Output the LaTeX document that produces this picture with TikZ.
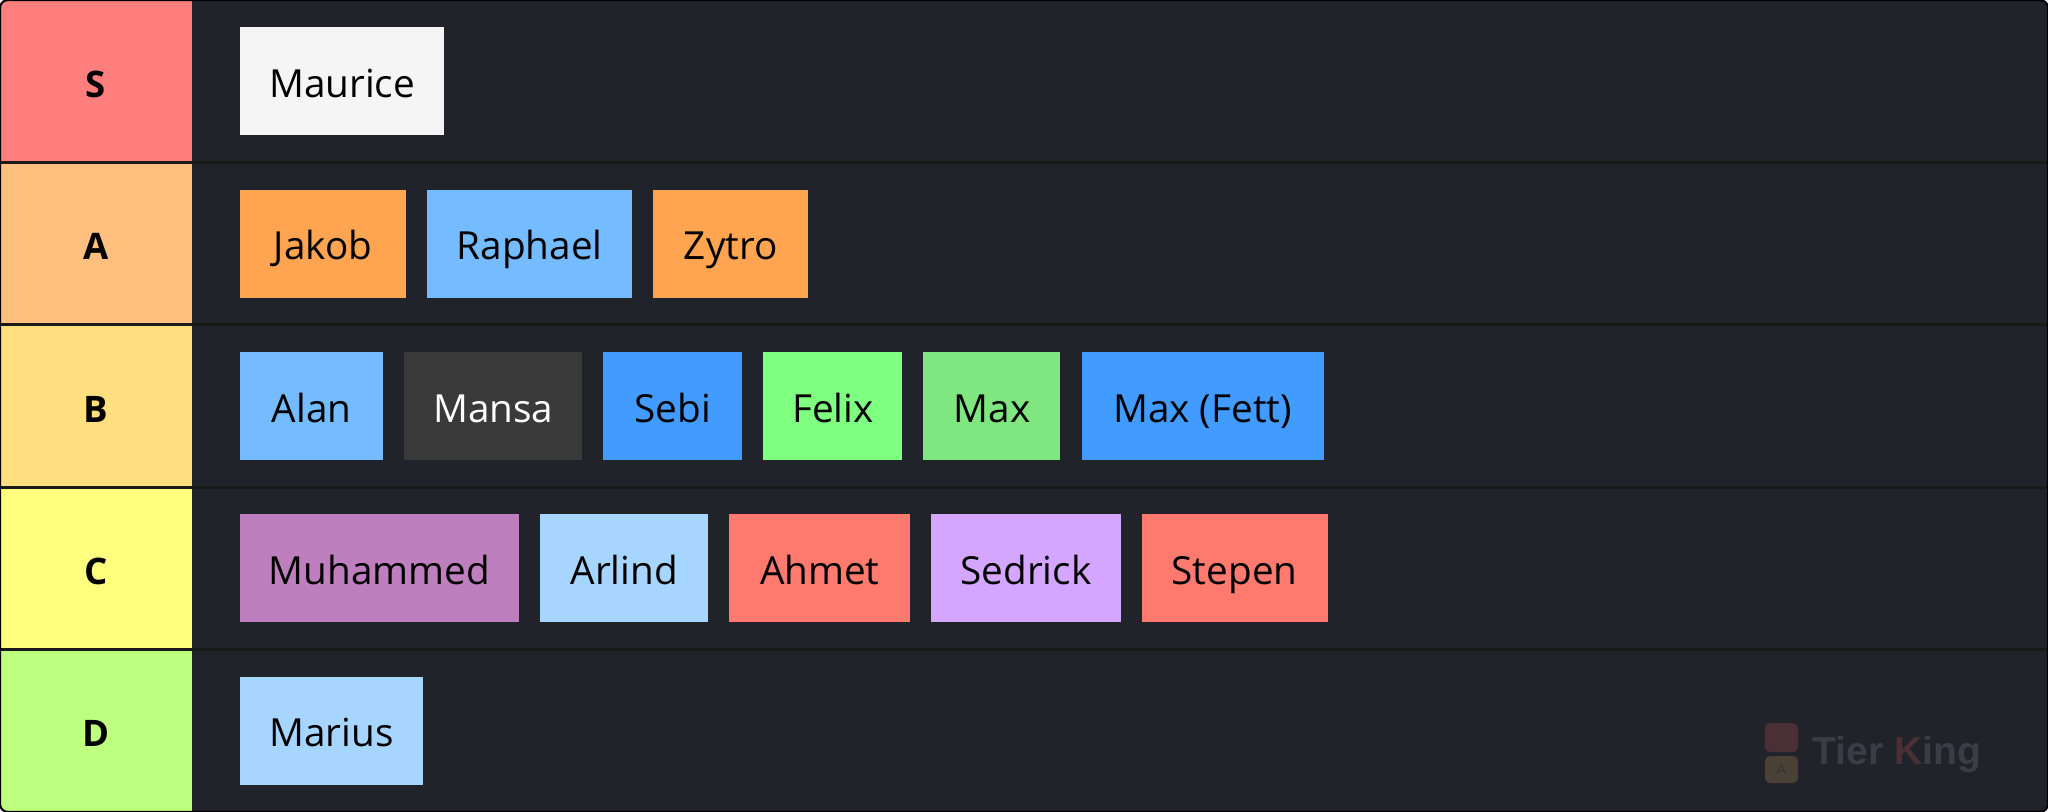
\documentclass[tikz,border=0pt]{standalone}
\usepackage{fontspec}
\setmainfont{Open Sans}
\newfontfamily\wmfont{Liberation Sans}
\usetikzlibrary{positioning}

% Farben der Stufen
\definecolor{tierS}{HTML}{FF7F7F}
\definecolor{tierA}{HTML}{FFBF7F}
\definecolor{tierB}{HTML}{FFDF7F}
\definecolor{tierC}{HTML}{FFFF7F}
\definecolor{tierD}{HTML}{BFFF7F}
\definecolor{bgdark}{HTML}{21232B}
% Farben der Karten
\definecolor{cWhite}{HTML}{F5F5F5}
\definecolor{cOrange}{HTML}{FFA552}
\definecolor{cSky}{HTML}{74BBFF}
\definecolor{cGrey}{HTML}{3A3A3A}
\definecolor{cBlue}{HTML}{429BFF}
\definecolor{cGreen}{HTML}{7FFF7F}
\definecolor{cMint}{HTML}{80E680}
\definecolor{cPurple}{HTML}{BF7FBF}
\definecolor{cPale}{HTML}{A6D5FF}
\definecolor{cRed}{HTML}{FF7A6E}
\definecolor{cLilac}{HTML}{D5A6FF}
\definecolor{wmGrey}{HTML}{3B3D46}
\definecolor{wmRed}{HTML}{4A2F37}
\definecolor{wmBrown}{HTML}{4A4136}

\tikzset{
  card/.style={fill=#1, minimum height=1.08cm, inner sep=0pt, outer sep=0pt, anchor=west,
    text height=12pt, text depth=2.9pt, font=\fontsize{11}{13}\selectfont, text=black},
  tierlabel/.style={fill=#1, minimum width=1.92cm, minimum height=1.624cm,
    inner sep=0pt, outer sep=0pt, text height=12pt, text depth=2.9pt,
    font=\fontsize{10.4}{12}\selectfont\bfseries, text=black},
  rowsep/.style={line width=0.8pt, draw=black!90},
}

\begin{document}
\begin{tikzpicture}[x=0.01cm, y=-0.01cm]
    \useasboundingbox (0,0) rectangle (2048,812);
    \begin{scope}
    \clip[rounded corners=0.08cm] (0,0) rectangle (2048,812);
    \fill[bgdark] (0,0) rectangle (2048,812);

    % Stufen links
    \node[tierlabel=tierS] (tS) at (96,81.2) {S};
    \node[tierlabel=tierA] (tA) at (96,243.6) {A};
    \node[tierlabel=tierB] (tB) at (96,406) {B};
    \node[tierlabel=tierC] (tC) at (96,568.4) {C};
    \node[tierlabel=tierD] (tD) at (96,730.8) {D};

    % Trennlinien
    \foreach \y in {162.4,324.8,487.2,649.6}
        \draw[rowsep] (0,\y) -- (2048,\y);
    \end{scope}
    \draw[black, line width=0.6pt, rounded corners=0.08cm] (0,0) rectangle (2048,812);

    % S
    \node[card=cWhite, minimum width=2.04cm] (maurice) at (240,81.2) {Maurice};

    % A
    \node[card=cOrange, minimum width=1.66cm] (jakob) at (240,243.6) {Jakob};
    \node[card=cSky, minimum width=2.05cm, right=0.21cm of jakob] (raphael) {Raphael};
    \node[card=cOrange, minimum width=1.55cm, right=0.21cm of raphael] (zytro) {Zytro};

    % B
    \node[card=cSky, minimum width=1.43cm] (alan) at (240,406) {Alan};
    \node[card=cGrey, minimum width=1.78cm, text=white, right=0.21cm of alan] (mansa) {Mansa};
    \node[card=cBlue, minimum width=1.39cm, right=0.21cm of mansa] (sebi) {Sebi};
    \node[card=cGreen, minimum width=1.39cm, right=0.21cm of sebi] (felix) {Felix};
    \node[card=cMint, minimum width=1.37cm, right=0.21cm of felix] (max) {Max};
    \node[card=cBlue, minimum width=2.42cm, right=0.21cm of max] (maxfett) {Max (Fett)};

    % C
    \node[card=cPurple, minimum width=2.79cm] (muhammed) at (240,568.4) {Muhammed};
    \node[card=cPale, minimum width=1.68cm, right=0.21cm of muhammed] (arlind) {Arlind};
    \node[card=cRed, minimum width=1.81cm, right=0.21cm of arlind] (ahmet) {Ahmet};
    \node[card=cLilac, minimum width=1.89cm, right=0.21cm of ahmet] (sedrick) {Sedrick};
    \node[card=cRed, minimum width=1.86cm, right=0.21cm of sedrick] (stepen) {Stepen};

    % D
    \node[card=cPale, minimum width=1.83cm] (marius) at (240,730.8) {Marius};

    % Wasserzeichen
    \fill[wmRed, rounded corners=0.05cm] (1765,723) rectangle (1798,752);
    \fill[wmBrown, rounded corners=0.05cm] (1765,756) rectangle (1798,783);
    \node[font=\wmfont\fontsize{4}{4}\selectfont, text=black!80, inner sep=0pt] (wmA) at (1781.5,770) {A};
    \node[font=\wmfont\bfseries\fontsize{11.1}{13}\selectfont, inner sep=0pt, anchor=west]
        (wm) at (1812,754) {\textcolor{wmGrey}{Tier} \textcolor{wmRed}{K}\textcolor{wmGrey}{ing}};
\end{tikzpicture}
\end{document}
